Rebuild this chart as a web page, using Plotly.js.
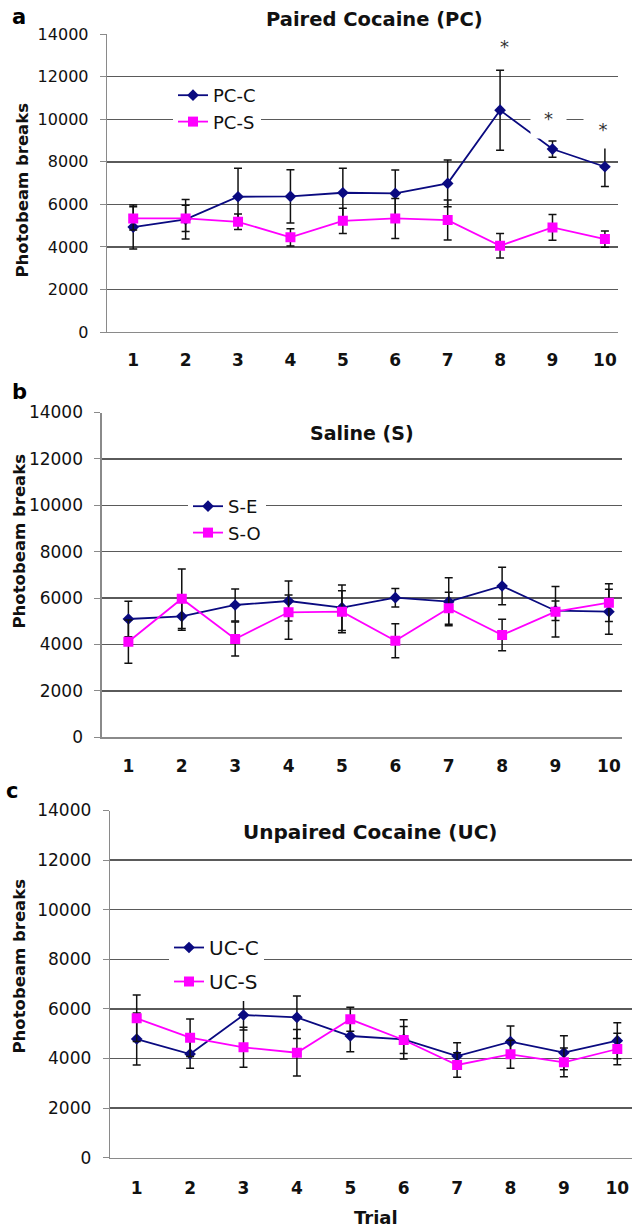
<!DOCTYPE html>
<html>
<head>
<meta charset="utf-8">
<script src="https://cdn.plot.ly/plotly-3.0.1.min.js"></script>
<style>html,body{margin:0;padding:0;background:#fff;}#chart{width:632px;height:1230px;}</style>
</head>
<body>
<div id="chart"></div>
<script>
// ---- data ----
const trials = [1, 2, 3, 4, 5, 6, 7, 8, 9, 10];
const trialLabels = ["1", "2", "3", "4", "5", "6", "7", "8", "9", "10"];
const boundaryTicks = [0.5, 1.5, 2.5, 3.5, 4.5, 5.5, 6.5, 7.5, 8.5, 9.5];
const yTicks = [0, 2000, 4000, 6000, 8000, 10000, 12000, 14000];

// Panel a: Paired Cocaine (PC)
const pcC    = [4934, 5300, 6360, 6378, 6548, 6519, 6989, 10433, 8603, 7771];
const pcCErr = [1035, 930, 1335, 1250, 1147, 1096, 1096, 1880, 385, 930];
const pcS    = [5343, 5343, 5184, 4450, 5231, 5343, 5263, 4055, 4920, 4370];
const pcSErr = [547, 620, 360, 400, 594, 941, 941, 575, 600, 380];
const sigTrials = [8, 9, 10];
const sigY = [13600, 10040, 9540];

// Panel b: Saline (S)
const sE       = [5099, 5216, 5703, 5875, 5586, 6017, 5845, 6522, 5457, 5414];
const sEErr    = [763, 600, 690, 862, 979, 400, 1034, 810, 420, 970];
const sO       = [4121, 5974, 4237, 5388, 5414, 4164, 5560, 4409, 5414, 5802];
const sOErrUp  = [931, 1280, 733, 746, 905, 730, 690, 676, 1090, 812];
const sOErrDn  = [931, 1280, 733, 1164, 905, 730, 690, 676, 1090, 812];

// Panel c: Unpaired Cocaine (UC)
const ucC    = [4786, 4181, 5754, 5661, 4907, 4774, 4101, 4677, 4234, 4718];
const ucCErr = [1048, 576, 605, 859, 633, 790, 536, 633, 685, 726];
const ucS    = [5621, 4839, 4452, 4234, 5581, 4746, 3738, 4169, 3847, 4383];
const ucSErr = [939, 754, 807, 940, 484, 540, 496, 564, 581, 633];

// ---- styles ----
const NAVY = '#0a0a80', MAG = '#ff00ff';
const W = 632, H = 1230;
const px = v => v / W, py = v => 1 - v / H;

function errBar(up, dn) {
  const e = {type: 'data', array: up, color: '#111', thickness: 1.5, width: 4, visible: true};
  if (dn) { e.symmetric = false; e.arrayminus = dn; } else { e.symmetric = true; }
  return e;
}
function navyTrace(y, err, name, xa, ya, leg, grp) {
  return {x: trials, y: y, name: name, type: 'scatter', mode: 'lines+markers',
    xaxis: xa, yaxis: ya, legend: leg, legendgroup: grp,
    line: {color: NAVY, width: 1.8},
    marker: {symbol: 'diamond', size: 9, color: NAVY},
    error_y: err};
}
function magTrace(y, err, name, xa, ya, leg, grp) {
  return {x: trials, y: y, name: name, type: 'scatter', mode: 'lines+markers',
    xaxis: xa, yaxis: ya, legend: leg, legendgroup: grp,
    line: {color: MAG, width: 1.8},
    marker: {symbol: 'square', size: 10, color: MAG},
    error_y: err};
}

const data = [
  navyTrace(pcC, errBar(pcCErr), 'PC-C', 'x', 'y', 'legend', 'a1'),
  magTrace(pcS, errBar(pcSErr), 'PC-S', 'x', 'y', 'legend', 'a2'),
  navyTrace(sE, errBar(sEErr), 'S-E', 'x2', 'y2', 'legend2', 'b1'),
  magTrace(sO, errBar(sOErrUp, sOErrDn), 'S-O', 'x2', 'y2', 'legend2', 'b2'),
  navyTrace(ucC, errBar(ucCErr), 'UC-C', 'x3', 'y3', 'legend3', 'c1'),
  magTrace(ucS, errBar(ucSErr), 'UC-S', 'x3', 'y3', 'legend3', 'c2')
];

const FONT = 'DejaVu Sans, Arial, sans-serif';
const GRID = '#5a5a5a', AXL = '#8a8a8a';

function xMain(domain, range, anchor, standoff) {
  return {domain: domain, range: range, anchor: anchor, tickvals: trials, ticktext: trialLabels,
    ticks: '', showgrid: false, zeroline: false, showline: true, linecolor: AXL, linewidth: 1.3,
    tickfont: {family: FONT, size: 17, color: '#111', weight: 'bold'}, ticklabelstandoff: standoff, fixedrange: true};
}
function xTickAxis(domain, range, anchor, over) {
  return {domain: domain, range: range, anchor: anchor, overlaying: over, tickvals: boundaryTicks,
    ticks: 'outside', ticklen: 6, tickcolor: AXL, tickwidth: 1.3, showticklabels: false,
    showgrid: false, zeroline: false, showline: false, side: 'bottom', fixedrange: true};
}
function yAx(domain, anchor, fs) {
  return {domain: domain, range: [0, 14000], anchor: anchor, tickvals: yTicks, tickformat: 'd',
    showgrid: true, gridcolor: GRID, gridwidth: 1.3, zeroline: false,
    showline: true, linecolor: AXL, linewidth: 1.3, ticks: 'outside', ticklen: 6, tickcolor: AXL,
    tickfont: {family: FONT, size: fs, color: '#111'}, ticklabelstandoff: 8,
    fixedrange: true};
}

const xa = [px(107), px(618)], ra = [0.5, 10.25];
const xb = [px(101.7), px(621.7)], rb = [0.5, 10.24];
const xc = [px(110), 1], rc = [0.5, 10.275];

function ytitle(cx, cy) {
  return {text: 'Photobeam breaks', xref: 'paper', yref: 'paper', x: px(cx), y: py(cy),
    xanchor: 'center', yanchor: 'middle', textangle: -90, showarrow: false,
    font: {family: FONT, size: 16.5, weight: 'bold', color: '#111'}};
}

const layout = {
  width: W, height: H, margin: {l: 0, r: 0, t: 0, b: 0},
  paper_bgcolor: '#fff', plot_bgcolor: '#fff',
  font: {family: FONT, color: '#111'},
  xaxis: xMain(xa, ra, 'y', 12),
  xaxis2: xMain(xb, rb, 'y2', 13),
  xaxis3: xMain(xc, rc, 'y3', 15),
  xaxis4: xTickAxis(xa, ra, 'y', 'x'),
  xaxis5: xTickAxis(xb, rb, 'y2', 'x2'),
  xaxis6: xTickAxis(xc, rc, 'y3', 'x3'),
  yaxis: yAx([py(332), py(34.3)], 'x', 16),
  yaxis2: yAx([py(737.3), py(412.5)], 'x2', 17),
  yaxis3: yAx([py(1157.7), py(810.5)], 'x3', 17),
  legend: {x: px(173), y: py(77), xanchor: 'left', yanchor: 'top', bgcolor: '#fff', borderwidth: 0,
    font: {family: FONT, size: 18, color: '#111'}, tracegroupgap: 0},
  legend2: {x: px(188), y: py(488), xanchor: 'left', yanchor: 'top', bgcolor: '#fff', borderwidth: 0,
    font: {family: FONT, size: 18, color: '#111'}, tracegroupgap: 0},
  legend3: {x: px(169), y: py(928), xanchor: 'left', yanchor: 'top', bgcolor: '#fff', borderwidth: 0,
    font: {family: FONT, size: 20, color: '#111'}, tracegroupgap: 5},
  showlegend: true,
  annotations: [
    {text: 'Paired Cocaine (PC)', xref: 'paper', yref: 'paper', x: px(374), y: py(20), xanchor: 'center', yanchor: 'middle', showarrow: false, font: {family: FONT, size: 19.5, weight: 'bold', color: '#111'}},
    {text: 'Saline (S)', xref: 'paper', yref: 'paper', x: px(362), y: py(433), xanchor: 'center', yanchor: 'middle', showarrow: false, font: {family: FONT, size: 19, weight: 'bold', color: '#111'}},
    {text: 'Unpaired Cocaine (UC)', xref: 'paper', yref: 'paper', x: px(370), y: py(832), xanchor: 'center', yanchor: 'middle', showarrow: false, font: {family: FONT, size: 20, weight: 'bold', color: '#111'}},
    {text: 'a', xref: 'paper', yref: 'paper', x: px(19), y: py(17), xanchor: 'center', yanchor: 'middle', showarrow: false, font: {family: FONT, size: 21, weight: 'bold', color: '#000'}},
    {text: 'b', xref: 'paper', yref: 'paper', x: px(19), y: py(392), xanchor: 'center', yanchor: 'middle', showarrow: false, font: {family: FONT, size: 21, weight: 'bold', color: '#000'}},
    {text: 'c', xref: 'paper', yref: 'paper', x: px(12), y: py(791), xanchor: 'center', yanchor: 'middle', showarrow: false, font: {family: FONT, size: 21, weight: 'bold', color: '#000'}},
    ytitle(21.5, 190), ytitle(18.5, 541), ytitle(18.5, 966),
    {text: 'Trial', xref: 'paper', yref: 'paper', x: px(376), y: py(1229), xanchor: 'center', yanchor: 'bottom', borderpad: 0, showarrow: false, font: {family: FONT, size: 18, weight: 'bold', color: '#111'}},
    {text: '*', xref: 'x', yref: 'y', x: sigTrials[0], y: sigY[0], xshift: 4, yshift: -4, showarrow: false, font: {family: FONT, size: 18, color: '#333'}},
    {text: '*', xref: 'x', yref: 'y', x: sigTrials[1], y: sigY[1], xshift: -4, showarrow: false, width: 33, height: 37, bgcolor: '#fff', font: {family: FONT, size: 18, color: '#333'}},
    {text: '*', xref: 'x', yref: 'y', x: sigTrials[2], y: sigY[2], xshift: -2, showarrow: false, width: 36, height: 36, bgcolor: '#fff', font: {family: FONT, size: 18, color: '#333'}}
  ]
};

Plotly.newPlot('chart', data, layout, {staticPlot: true, displayModeBar: false});
</script>
</body>
</html>
